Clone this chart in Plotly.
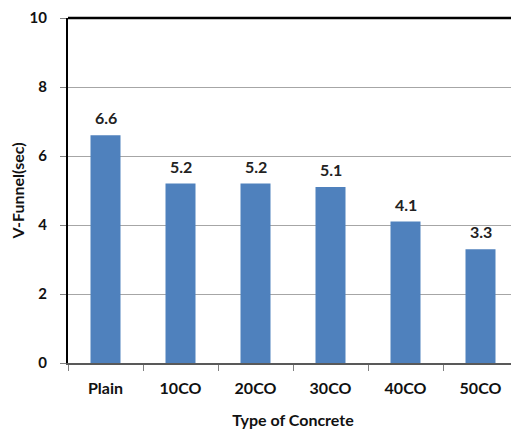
import plotly.graph_objects as go

categories = ["Plain", "10CO", "20CO", "30CO", "40CO", "50CO"]
values = [6.6, 5.2, 5.2, 5.1, 4.1, 3.3]
labels = ["6.6", "5.2", "5.2", "5.1", "4.1", "3.3"]
y_ticks = [0, 2, 4, 6, 8, 10]

FONT = "Lato, 'Open Sans', 'DejaVu Sans', sans-serif"

fig = go.Figure()
fig.add_trace(go.Bar(
    x=categories, y=values,
    marker=dict(color="#4F81BD", line=dict(width=0)),
    width=0.4,
    hoverinfo="skip",
))

for c, v, t in zip(categories, values, labels):
    fig.add_annotation(x=c, y=v, text="<b>%s</b>" % t, showarrow=False,
                       yanchor="bottom", yshift=6,
                       font=dict(family=FONT, size=16, color="#222222"))

# page body has an 8px default margin, so the figure is sized to fit the window
fig.update_layout(
    width=511, height=422,
    margin=dict(l=60, r=1, t=10, b=67),
    paper_bgcolor="white", plot_bgcolor="white",
    showlegend=False,
    font=dict(family=FONT, size=16, color="#111111"),
    xaxis=dict(
        automargin=False,
        tickson="boundaries", ticks="outside", ticklen=6, tickcolor="#808080",
        tickwidth=1, showline=True, linecolor="#595959", linewidth=2,
        tickfont=dict(family=FONT, size=16, color="#111111", weight="bold"),
        ticklabelstandoff=10,
        title=dict(text="<b>Type of Concrete</b>", font=dict(family=FONT, size=16), standoff=19),
        showgrid=False, zeroline=False,
    ),
    yaxis=dict(
        automargin=False,
        range=[0, 10], tickvals=y_ticks, ticks="outside", ticklen=6,
        tickcolor="#808080", tickwidth=1,
        showline=True, linecolor="#000000", linewidth=2,
        showgrid=True, gridcolor="#A6A6A6", gridwidth=1, zeroline=False,
        tickfont=dict(family=FONT, size=15, color="#111111", weight="bold"),
        ticklabelstandoff=10, ticklabeloverflow="allow",
        title=dict(text="<b>V-Funnel(sec)</b>", font=dict(family=FONT, size=16), standoff=16),
    ),
    shapes=[
        dict(type="line", xref="paper", yref="paper", x0=0, x1=1, y0=1, y1=1,
             line=dict(color="#000000", width=2.5)),
        dict(type="line", xref="paper", yref="paper", x0=1, x1=1, y0=0, y1=1,
             line=dict(color="#A6A6A6", width=1)),
    ],
)

fig.write_html("out.html")
